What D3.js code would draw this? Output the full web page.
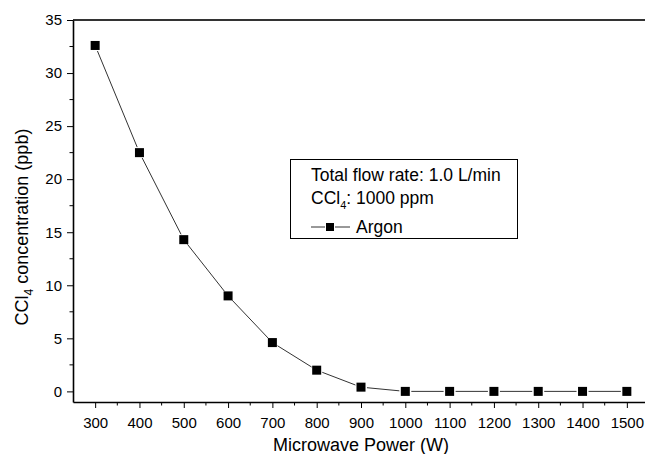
<!DOCTYPE html>
<html>
<head>
<meta charset="utf-8">
<script src="https://cdn.jsdelivr.net/npm/d3@7"></script>
<style>
  body { margin: 0; background: #fff; }
  svg { display: block; font-family: "Liberation Sans", Arial, sans-serif; }
</style>
</head>
<body>
<div id="chart"></div>
<script>
// data
var powers = [300, 400, 500, 600, 700, 800, 900, 1000, 1100, 1200, 1300, 1400, 1500];
var argonValues = [32.6, 22.5, 14.3, 9.0, 4.6, 2.0, 0.4, 0.0, 0.0, 0.0, 0.0, 0.0, 0.0];
var xTicks = [300, 400, 500, 600, 700, 800, 900, 1000, 1100, 1200, 1300, 1400, 1500];
var yTicks = [0, 5, 10, 15, 20, 25, 30, 35];

var width = 645, height = 454;
var plotLeft = 73, plotRight = 649, plotTop = 20, plotBottom = 402;

var svg = d3.select("#chart").append("svg")
  .attr("width", width)
  .attr("height", height);

var x = d3.scaleLinear().domain([250, 1550]).range([plotLeft, plotRight]);
var y = d3.scaleLinear().domain([-1, 35]).range([plotBottom, plotTop]);

/** top frame line */
svg.append("line")
  .attr("x1", plotLeft).attr("x2", plotRight)
  .attr("y1", plotTop).attr("y2", plotTop)
  .attr("stroke", "#333").attr("stroke-width", 1.8);

/** x axis */
var xAxis = svg.append("g").attr("transform", "translate(0," + plotBottom + ")");
xAxis.call(d3.axisBottom(x).tickValues(xTicks).tickFormat(d3.format("d"))
  .tickSize(6).tickSizeOuter(0).tickPadding(8));
xAxis.append("g").selectAll("line")
  .data(d3.range(350, 1550, 100))
  .join("line")
  .attr("x1", function(d){ return x(d); }).attr("x2", function(d){ return x(d); })
  .attr("y1", 0).attr("y2", 3.5)
  .attr("stroke", "#000");

/** y axis */
var yAxis = svg.append("g").attr("transform", "translate(" + plotLeft + ",0)");
yAxis.call(d3.axisLeft(y).tickValues(yTicks).tickSize(6).tickSizeOuter(0).tickPadding(5));
yAxis.append("g").selectAll("line")
  .data(d3.range(2.5, 35, 5))
  .join("line")
  .attr("y1", function(d){ return y(d); }).attr("y2", function(d){ return y(d); })
  .attr("x1", 0).attr("x2", -3.5)
  .attr("stroke", "#000");

svg.selectAll(".domain").attr("stroke", "#000").attr("stroke-width", 1.6);
svg.selectAll(".tick line").attr("stroke", "#000");
svg.selectAll(".tick text").attr("font-size", 15).attr("fill", "#000")
  .attr("font-family", "'Liberation Sans', Arial, sans-serif");
xAxis.selectAll(".tick text").attr("dy", "0.8em");

/** axis titles */
svg.append("text")
  .attr("x", x(900)).attr("y", 451)
  .attr("text-anchor", "middle")
  .attr("font-size", 18)
  .text("Microwave Power (W)");

var yt = svg.append("text")
  .attr("transform", "translate(28,227) rotate(-90)")
  .attr("text-anchor", "middle")
  .attr("font-size", 18);
yt.append("tspan").text("CCl");
yt.append("tspan").attr("font-size", 12).attr("dy", 5).text("4");
yt.append("tspan").attr("dy", -5).text(" concentration (ppb)");

/** series line with small gaps at markers */
var pts = powers.map(function(p, i){ return [x(p), y(argonValues[i])]; });
var gap = 6;
for (var i = 0; i < pts.length - 1; i++) {
  var a = pts[i], b = pts[i + 1];
  var dx = b[0] - a[0], dy = b[1] - a[1];
  var len = Math.sqrt(dx * dx + dy * dy);
  svg.append("line")
    .attr("x1", a[0] + dx / len * gap).attr("y1", a[1] + dy / len * gap)
    .attr("x2", b[0] - dx / len * gap).attr("y2", b[1] - dy / len * gap)
    .attr("stroke", "#333").attr("stroke-width", 1);
}

svg.selectAll("rect.marker")
  .data(powers)
  .join("rect")
  .attr("class", "marker")
  .attr("x", function(d){ return x(d) - 4.5; })
  .attr("y", function(d, i){ return y(argonValues[i]) - 4.5; })
  .attr("width", 9).attr("height", 9)
  .attr("fill", "#000");

/** legend box */
var lg = svg.append("g");
lg.append("rect")
  .attr("x", 290.5).attr("y", 159.5)
  .attr("width", 227).attr("height", 79)
  .attr("fill", "#fff").attr("stroke", "#000").attr("stroke-width", 1);
lg.append("text").attr("x", 311).attr("y", 181).attr("font-size", 17.5)
  .text("Total flow rate: 1.0 L/min");
var l2 = lg.append("text").attr("x", 311).attr("y", 204).attr("font-size", 17.5);
l2.append("tspan").text("CCl");
l2.append("tspan").attr("font-size", 11).attr("dy", 5).text("4");
l2.append("tspan").attr("dy", -5).text(": 1000 ppm");
lg.append("line").attr("x1", 311).attr("x2", 325).attr("y1", 227).attr("y2", 227)
  .attr("stroke", "#333");
lg.append("line").attr("x1", 335).attr("x2", 350).attr("y1", 227).attr("y2", 227)
  .attr("stroke", "#333");
lg.append("rect").attr("x", 326).attr("y", 223).attr("width", 8).attr("height", 8)
  .attr("fill", "#000");
lg.append("text").attr("x", 356).attr("y", 233).attr("font-size", 17.5).text("Argon");
</script>
</body>
</html>
